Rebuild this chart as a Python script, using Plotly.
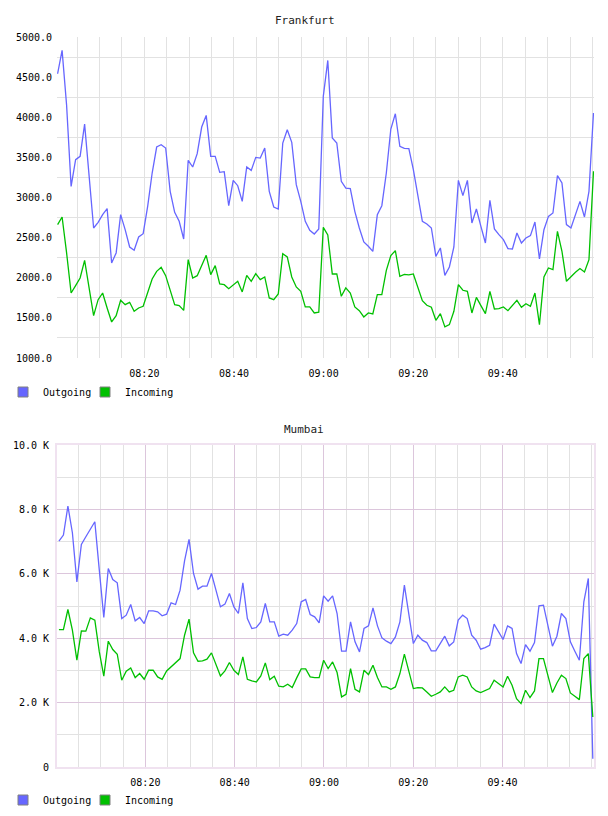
import pandas as pd
import plotly.graph_objects as go

# ---------------- data ----------------
times = pd.date_range("2013-06-01 08:00:38", "2013-06-01 10:00:14", periods=120)

fra_out = [4542, 4833, 4150, 3139, 3471, 3513, 3915, 3264, 2620, 2691,
           2786, 2861, 2184, 2309, 2786, 2599, 2383, 2342, 2508, 2549,
           2890, 3305, 3629, 3658, 3617, 3077, 2815, 2703, 2483, 3463,
           3380, 3546, 3878, 4023, 3513, 3513, 3313, 3322, 2898, 3214,
           3147, 2952, 3380, 3338, 3500, 3492, 3617, 3077, 2882, 2857,
           3679, 3845, 3687, 3160, 2952, 2703, 2591, 2545, 2608, 4260,
           4708, 3741, 3679, 3201, 3118, 3110, 2828, 2620, 2446, 2392,
           2329, 2786, 2898, 3305, 3853, 4044, 3637, 3612, 3608, 3346,
           3043, 2703, 2670, 2620, 2267, 2371, 2030, 2134, 2383, 3214,
           3023, 3214, 2682, 2857, 2641, 2433, 2965, 2608, 2537, 2475,
           2363, 2359, 2558, 2433, 2495, 2525, 2695, 2234, 2599, 2765,
           2807, 3272, 3181, 2662, 2620, 2786, 2952, 2757, 3077, 4052]

fra_in = [2662, 2757, 2309, 1810, 1902, 1997, 2217, 1852, 1528, 1727,
          1810, 1623, 1449, 1528, 1719, 1665, 1694, 1582, 1623, 1644,
          1810, 1985, 2080, 2130, 2026, 1852, 1665, 1653, 1594, 2226,
          1997, 2026, 2163, 2280, 2039, 2151, 1922, 1914, 1864, 1906,
          1956, 1823, 2030, 1956, 2051, 1977, 2010, 1748, 1727, 1798,
          2300, 2259, 2010, 1885, 1831, 1636, 1636, 1561, 1570, 2628,
          2533, 2047, 2047, 1769, 1873, 1810, 1636, 1590, 1511, 1561,
          1549, 1790, 1790, 2093, 2276, 2338, 2018, 2043, 2035, 2047,
          1893, 1715, 1657, 1632, 1470, 1553, 1387, 1416, 1582, 1914,
          1844, 1831, 1561, 1756, 1653, 1553, 1831, 1611, 1615, 1636,
          1590, 1653, 1719, 1632, 1677, 1644, 1810, 1416, 2010, 2122,
          2101, 2579, 2330, 1956, 2018, 2068, 2114, 2072, 2226, 3326]

mum_out = [7016, 7202, 8104, 7275, 5751, 6912, 7150, 7378, 7617, 6114,
           4642, 6166, 5824, 5720, 4611, 4715, 5047, 4539, 4642, 4456,
           4850, 4850, 4819, 4694, 4746, 5098, 5047, 5492, 6404, 7067,
           6010, 5523, 5617, 5617, 6010, 5492, 4974, 5057, 5389, 4974,
           4767, 5720, 4611, 4301, 4332, 4508, 5078, 4508, 4508, 4062,
           4124, 4093, 4249, 4456, 5130, 5202, 4736, 4663, 4477, 5316,
           5150, 5316, 4767, 3596, 3596, 4508, 3886, 3575, 4301, 4383,
           4943, 4383, 4010, 3907, 3834, 4041, 4508, 5648, 4767, 3834,
           4093, 3938, 3865, 3606, 3606, 3834, 4062, 3762, 3886, 4560,
           4715, 4611, 4093, 3938, 3658, 3710, 3782, 4435, 4197, 3959,
           4383, 4301, 3523, 3212, 3803, 3596, 3865, 5005, 5026, 4383,
           3751, 4062, 4767, 4611, 3886, 3596, 3316, 5130, 5855, 259]

mum_in = [4269, 4269, 4891, 4249, 3316, 4228, 4218, 4632, 4560, 3575,
          2819, 3907, 3648, 3503, 2694, 2974, 3078, 2777, 2902, 2725,
          3005, 3005, 2798, 2725, 2984, 3109, 3233, 3368, 4093, 4591,
          3544, 3285, 3295, 3347, 3544, 3192, 2829, 2984, 3244, 3005,
          2870, 3420, 2725, 2674, 2642, 2829, 3233, 2715, 2819, 2508,
          2487, 2570, 2466, 2767, 3047, 3047, 2798, 2777, 2777, 3316,
          3057, 3264, 2933, 2176, 2259, 3057, 2415, 2332, 3005, 2870,
          3161, 2777, 2487, 2487, 2415, 2487, 2902, 3503, 2953, 2435,
          2466, 2456, 2332, 2197, 2259, 2332, 2487, 2332, 2383, 2798,
          2850, 2798, 2487, 2363, 2311, 2383, 2435, 2694, 2591, 2487,
          2819, 2539, 2124, 1969, 2383, 2155, 2363, 3368, 3368, 2881,
          2311, 2611, 2850, 2746, 2301, 2197, 2093, 3368, 3523, 1554]

series_names = ["Outgoing", "Incoming"]
titles = ["Frankfurt", "Mumbai"]
x_tickvals = ["2013-06-01 08:20", "2013-06-01 08:40", "2013-06-01 09:00",
              "2013-06-01 09:20", "2013-06-01 09:40"]
x_ticktext = ["08:20", "08:40", "09:00", "09:20", "09:40"]
fra_yticks = [1000, 1500, 2000, 2500, 3000, 3500, 4000, 4500, 5000]
fra_yticktext = ["1000.0", "1500.0", "2000.0", "2500.0", "3000.0",
                 "3500.0", "4000.0", "4500.0", "5000.0"]
mum_yticks = [0, 2000, 4000, 6000, 8000, 10000]
mum_yticktext = ["0", "2.0 K", "4.0 K", "6.0 K", "8.0 K", "10.0 K"]

# ---------------- style ----------------
BLUE = "#6666ff"
GREEN = "#00c000"
GRID = "#e2e2e2"
PURPLE = "#dcc6dc"
BORDER = "#f0e2f0"
FONT = "DejaVu Sans Mono"

fig = go.Figure()

fig.add_trace(go.Scatter(x=times, y=fra_out, mode="lines", line=dict(color=BLUE, width=1.3),
                         xaxis="x", yaxis="y", showlegend=False, name=series_names[0]))
fig.add_trace(go.Scatter(x=times, y=fra_in, mode="lines", line=dict(color=GREEN, width=1.3),
                         xaxis="x", yaxis="y", showlegend=False, name=series_names[1]))
fig.add_trace(go.Scatter(x=times, y=mum_out, mode="lines", line=dict(color=BLUE, width=1.3),
                         xaxis="x2", yaxis="y2", showlegend=False, name=series_names[0]))
fig.add_trace(go.Scatter(x=times, y=mum_in, mode="lines", line=dict(color=GREEN, width=1.3),
                         xaxis="x2", yaxis="y2", showlegend=False, name=series_names[1]))

# legend swatches: one legend box per entry so the spacing can match
legend_ids = [["legend", "legend2"], ["legend3", "legend4"]]
for row, ax in enumerate((("x", "y"), ("x2", "y2"))):
    for k, (nm, col) in enumerate(zip(series_names, [BLUE, GREEN])):
        fig.add_trace(go.Scatter(x=[None], y=[None], mode="markers", name=nm,
                                 xaxis=ax[0], yaxis=ax[1], legend=legend_ids[row][k], showlegend=True,
                                 marker=dict(symbol="square", size=10, color=col,
                                             line=dict(color="#808080", width=1))))

tickfont = dict(family=FONT, size=10, color="#000")

xcommon = dict(type="date", tickmode="array", tickvals=x_tickvals, ticktext=x_ticktext,
               ticks="", tickfont=tickfont, zeroline=False)

legcommon = dict(orientation="h", xanchor="left", yanchor="middle",
                 font=dict(family=FONT, size=10, color="#000"), bgcolor="rgba(0,0,0,0)",
                 itemclick=False, itemdoubleclick=False)

leg_x = [(3 - 57) / 537, (85 - 57) / 537]
leg_y = [(767 - 392) / 730, (767 - 800) / 730]

fig.update_layout(
    width=608, height=816,
    margin=dict(l=57, r=14, t=37, b=49, autoexpand=False),
    paper_bgcolor="white", plot_bgcolor="white",
    font=dict(family=FONT, size=10, color="#000"),
    xaxis=dict(xcommon, domain=[0, 1], anchor="y", ticklabelstandoff=8,
               range=["2013-06-01 08:00:30", "2013-06-01 10:00:21"],
               showgrid=True, gridcolor=GRID, gridwidth=1, showline=False,
               minor=dict(dtick=300000, tick0="2013-06-01 08:00", showgrid=True, gridcolor=GRID, gridwidth=1)),
    yaxis=dict(domain=[409 / 730, 1], anchor="x", range=[1000, 5000],
               tickmode="array", tickvals=fra_yticks, ticktext=fra_yticktext,
               showgrid=False, zeroline=False, showline=False, ticks="", tickfont=tickfont,
               ticklabelstandoff=4,
               minor=dict(tick0=1250, dtick=500, showgrid=True, gridcolor=GRID, gridwidth=1)),
    xaxis2=dict(xcommon, domain=[0, 1], anchor="y2", ticklabelstandoff=5,
                range=["2013-06-01 08:00:12", "2013-06-01 10:00:30"],
                showgrid=True, gridcolor=PURPLE, gridwidth=1,
                showline=True, linecolor=BORDER, linewidth=2, mirror=True,
                minor=dict(dtick=300000, tick0="2013-06-01 08:00", showgrid=True, gridcolor=GRID, gridwidth=1)),
    yaxis2=dict(domain=[0, 322 / 730], anchor="x2", range=[0, 10000],
                tickmode="array", tickvals=mum_yticks, ticktext=mum_yticktext,
                showgrid=True, gridcolor=PURPLE, gridwidth=1, zeroline=False,
                showline=True, linecolor=BORDER, linewidth=2, mirror=True,
                ticks="", tickfont=tickfont, ticklabelstandoff=4,
                minor=dict(tick0=0, dtick=1000, showgrid=True, gridcolor=GRID, gridwidth=1)),
    legend=dict(legcommon, x=leg_x[0], y=leg_y[0]),
    legend2=dict(legcommon, x=leg_x[1], y=leg_y[0]),
    legend3=dict(legcommon, x=leg_x[0], y=leg_y[1]),
    legend4=dict(legcommon, x=leg_x[1], y=leg_y[1]),
    annotations=[
        dict(text=titles[0], xref="paper", yref="paper", x=(305 - 57) / 537, y=(767 - 20) / 730,
             xanchor="center", yanchor="middle", showarrow=False,
             font=dict(family=FONT, size=11, color="#222")),
        dict(text=titles[1], xref="paper", yref="paper", x=(304 - 57) / 537, y=(767 - 429) / 730,
             xanchor="center", yanchor="middle", showarrow=False,
             font=dict(family=FONT, size=11, color="#222")),
    ],
)

fig.write_html("out.html")
